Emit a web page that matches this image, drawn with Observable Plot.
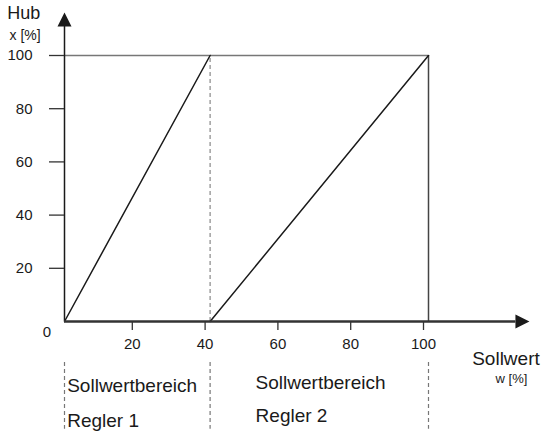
<!DOCTYPE html>
<html>
<head>
<meta charset="utf-8">
<script src="https://cdn.jsdelivr.net/npm/d3@7"></script>
<script src="https://cdn.jsdelivr.net/npm/@observablehq/plot@0.6"></script>
<style>
  html, body { margin: 0; padding: 0; background: #fff; }
  #chart svg { display: block; }
</style>
</head>
<body>
<div id="chart"></div>
<script>
// Data
const w1 = [0, 40];          // Sollwert, Regler 1
const hub1 = [0, 100];       // Hub, Regler 1
const w2 = [40, 100];        // Sollwert, Regler 2
const hub2 = [0, 100];       // Hub, Regler 2
const xTicks = [20, 40, 60, 80, 100];
const yTicks = [20, 40, 60, 80, 100];
const boundaries = [0, 40, 100];   // Bereichsgrenzen
const rangeLabels = ["Sollwertbereich", "Sollwertbereich"];
const reglerLabels = ["Regler 1", "Regler 2"];

const regler1 = w1.map((w, i) => ({w, x: hub1[i]}));
const regler2 = w2.map((w, i) => ({w, x: hub2[i]}));

const tri = {
  draw(ctx, size) {
    const h = Math.sqrt(size);
    ctx.moveTo(0, -h / 2);
    ctx.lineTo(h * 0.5, h / 2);
    ctx.lineTo(-h * 0.5, h / 2);
    ctx.closePath();
  }
};

const font = "Liberation Sans, Arial, Helvetica, sans-serif";
const ink = "#1a1a1a";

const chart = Plot.plot({
  width: 544,
  height: 432,
  marginLeft: 64,
  marginRight: 116,
  marginTop: 55,
  marginBottom: 111,
  style: {fontFamily: font, background: "#fff", color: ink},
  x: {domain: [0, 100]},
  y: {domain: [0, 100]},
  marks: [
    // dashed boundary at 40 inside plot
    Plot.ruleX([boundaries[1]], {y1: 0, y2: 100, stroke: "#888", strokeWidth: 1.2, strokeDasharray: "4,3"}),
    // dashed boundaries below the axis
    Plot.ruleX(boundaries, {y1: -15.4, y2: -40.5, stroke: "#777", strokeWidth: 1.2, strokeDasharray: "4,3"}),
    // top line at 100 %
    Plot.ruleY([100], {x1: 0, x2: 100, stroke: "#777", strokeWidth: 1.5}),
    // right boundary at 100
    Plot.ruleX([100], {y1: 0, y2: 100, stroke: "#444", strokeWidth: 1.5}),
    // characteristic lines
    Plot.line(regler1, {x: "w", y: "x", stroke: ink, strokeWidth: 1.5}),
    Plot.line(regler2, {x: "w", y: "x", stroke: ink, strokeWidth: 1.5}),
    // axes lines
    Plot.ruleX([0], {y1: 0, y2: 111, stroke: ink, strokeWidth: 1.5}),
    Plot.ruleY([0], {x1: 0, x2: 124, stroke: "#333", strokeWidth: 2.5}),
    // arrow heads
    Plot.dot([{w: 0, x: 113.5}], {x: "w", y: "x", symbol: tri, r: 7.9, fill: ink, stroke: "none"}),
    Plot.dot([{w: 125.8, x: 0}], {x: "w", y: "x", symbol: tri, r: 7.9, fill: ink, stroke: "none", rotate: 90}),
    // axes ticks & labels
    Plot.axisX({ticks: xTicks, tickSize: 9, tickPadding: 8, dx: -5, fontSize: 15, stroke: "#333", strokeWidth: 1.3, tickFormat: d => d, anchor: "bottom", label: null}),
    Plot.axisY({ticks: yTicks, tickSize: 15, tickPadding: 17, fontSize: 15, stroke: "#333", strokeWidth: 1.3, tickFormat: d => d, anchor: "left", label: null}),
    Plot.text(["0"], {x: -4.8, y: -4.1, fontSize: 15, textAnchor: "middle", lineAnchor: "middle", fill: ink}),
    // axis titles
    Plot.text(["Hub"], {x: -15.7, y: 113.6, fontSize: 18, textAnchor: "start", lineAnchor: "bottom", fill: ink}),
    Plot.text(["x [%]"], {x: -15.1, y: 106.0, fontSize: 14, textAnchor: "start", lineAnchor: "bottom", fill: ink}),
    Plot.text(["Sollwert"], {x: 112, y: -16.4, fontSize: 19, textAnchor: "start", lineAnchor: "bottom", fill: ink}),
    Plot.text(["w [%]"], {x: 122.8, y: -23.0, fontSize: 13, textAnchor: "middle", lineAnchor: "bottom", fill: ink}),
    // range labels
    Plot.text([rangeLabels[0]], {x: 0.74, y: -26.6, fontSize: 19, textAnchor: "start", lineAnchor: "bottom", fill: ink}),
    Plot.text([reglerLabels[0]], {x: 0.74, y: -39.8, fontSize: 19, textAnchor: "start", lineAnchor: "bottom", fill: ink}),
    Plot.text([rangeLabels[1]], {x: 52.5, y: -25.3, fontSize: 19, textAnchor: "start", lineAnchor: "bottom", fill: ink}),
    Plot.text([reglerLabels[1]], {x: 52.5, y: -37.9, fontSize: 19, textAnchor: "start", lineAnchor: "bottom", fill: ink})
  ]
});
document.getElementById("chart").appendChild(chart);
</script>
</body>
</html>
